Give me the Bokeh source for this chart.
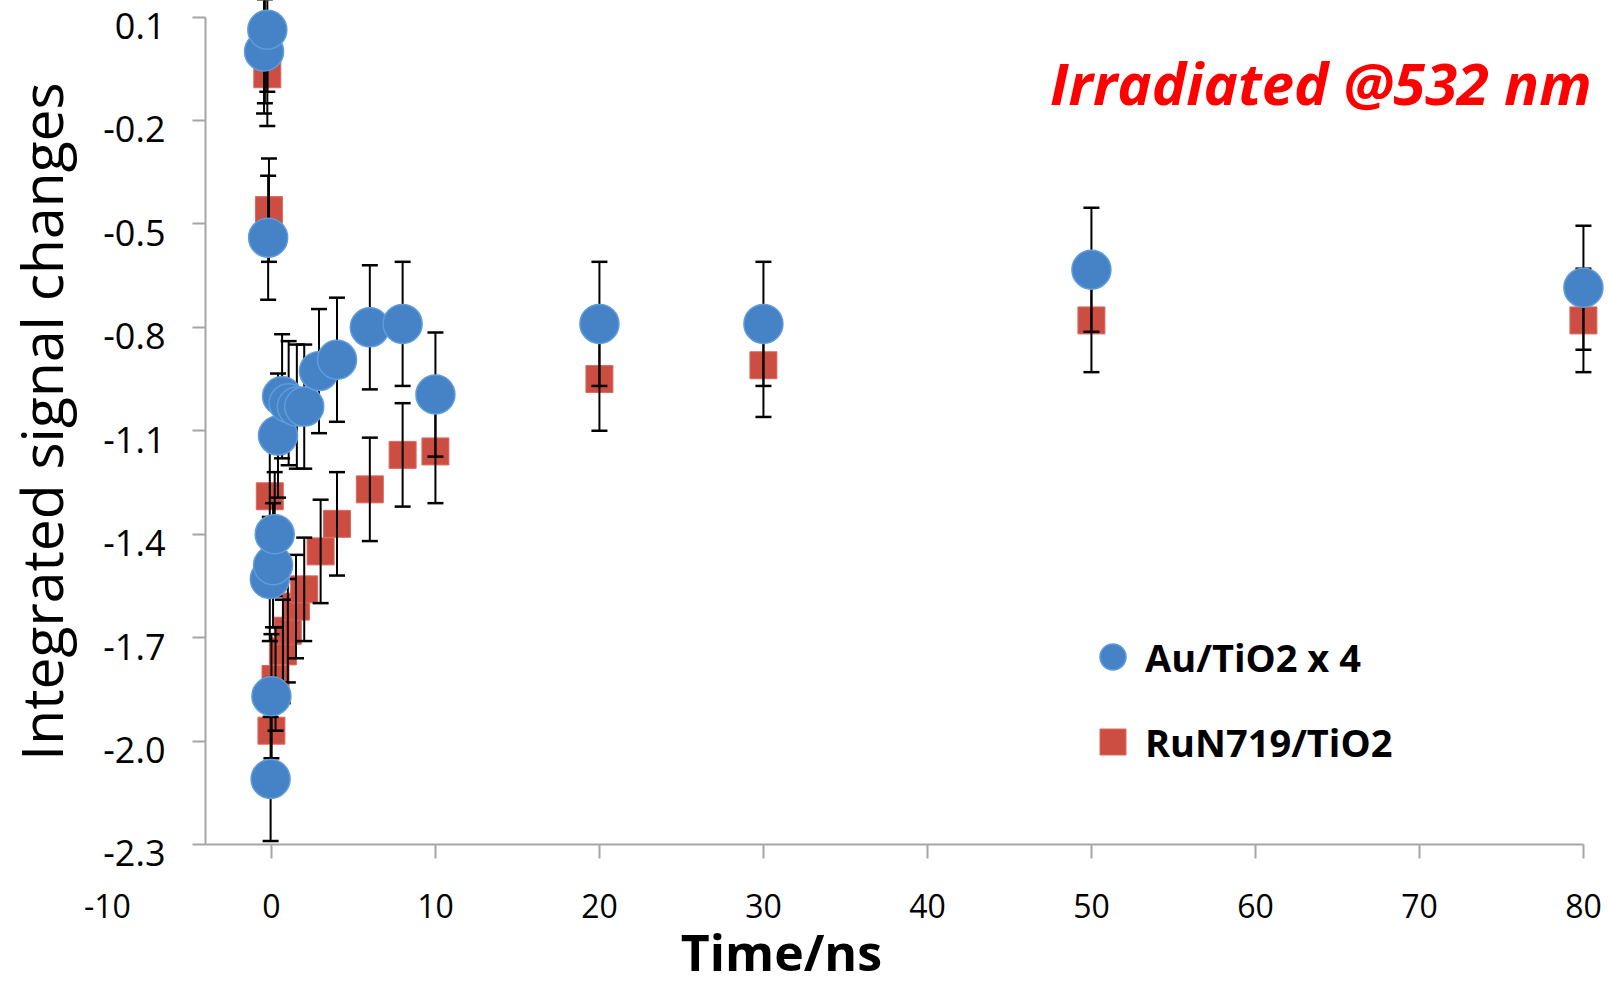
import math
from bokeh.plotting import figure
from bokeh.models import (Range1d, FixedTicker, PrintfTickFormatter, Legend, LegendItem,
                          Label, ColumnDataSource, LinearAxis)
from bokeh.embed import file_html
from bokeh.resources import INLINE

# ---------------- data ----------------
# Au/TiO2 x 4 (blue circles)
au_time = [-0.45, -0.25, -0.2, -0.1, -0.05, 0.0, 0.1, 0.2, 0.4, 0.65, 1.05, 1.55, 2.0,
           2.9, 4.0, 6.0, 8.0, 10.0, 20.0, 30.0, 50.0, 80.0]
au_signal = [0.0, 0.063, -0.54, -1.53, -2.11, -1.87, -1.49, -1.40, -1.114, -1.00, -1.02,
             -1.03, -1.03, -0.927, -0.894, -0.80, -0.79, -0.995, -0.79, -0.79, -0.633, -0.685]
au_err = [0.18, 0.18, 0.18, 0.18, 0.18, 0.18, 0.18, 0.18, 0.18, 0.18, 0.18,
          0.18, 0.18, 0.18, 0.18, 0.18, 0.18, 0.18, 0.18, 0.18, 0.18, 0.18]

# RuN719/TiO2 (red squares)
ru_time = [-0.4, -0.25, -0.15, -0.1, 0.0, 0.25, 0.7, 1.0, 1.5, 2.0, 3.0, 4.0, 6.0, 8.0,
           10.0, 20.0, 30.0, 50.0, 80.0]
ru_signal = [0.0, -0.066, -0.46, -1.29, -1.97, -1.82, -1.74, -1.68, -1.61, -1.56, -1.45,
             -1.37, -1.27, -1.17, -1.16, -0.95, -0.91, -0.78, -0.78]
ru_err = [0.15, 0.15, 0.15, 0.15, 0.15, 0.15, 0.15, 0.15, 0.15, 0.15, 0.15,
          0.15, 0.15, 0.15, 0.15, 0.15, 0.15, 0.15, 0.15]

x_ticks = [0, 10, 20, 30, 40, 50, 60, 70, 80]
stray_x_ticks = [-10]          # tick label drawn left of the y axis in the original
y_ticks = [0.1, -0.2, -0.5, -0.8, -1.1, -1.4, -1.7, -2.0, -2.3]

series_labels = ["Au/TiO2 x 4", "RuN719/TiO2"]
x_title = "Time/ns"
y_title = "Integrated signal changes"
annotation = "Irradiated @532 nm"

# ---------------- layout constants ----------------
FONT = "Open Sans"
AXIS_GRAY = "#A6A6A6"
Y_AXIS_AT = -4.02          # data x where the y axis stands
X_AXIS_AT = -2.3           # data y where the x axis lies
X_MIN, X_MAX = -16.52, 81.59
Y_MIN, Y_MAX = -2.712, 0.148
X_TITLE_AT = 31.1          # data x of the centre of the x-axis title
Y_TITLE_AT = -1.073        # data y of the centre of the y-axis title
Y_LABEL_SHIFT = 0.026      # y tick labels sit slightly below their ticks

# the frame covers the whole canvas; axes are pinned inside it
p = figure(frame_width=1609, frame_height=986,
           output_backend="svg", toolbar_location=None,
           x_range=Range1d(X_MIN, X_MAX), y_range=Range1d(Y_MIN, Y_MAX),
           min_border_left=0, min_border_right=0, min_border_top=0,
           min_border_bottom=0)
p.background_fill_color = "white"
p.border_fill_color = "white"
p.outline_line_color = None
p.grid.visible = False
p.extra_y_ranges = {"ylab": Range1d(Y_MIN + Y_LABEL_SHIFT, Y_MAX + Y_LABEL_SHIFT)}

def err_source(t, s, e):
    return ColumnDataSource(dict(
        x=t, y=s,
        lo=[a - b for a, b in zip(s, e)],
        hi=[a + b for a, b in zip(s, e)],
    ))

ru_src = err_source(ru_time, ru_signal, ru_err)
au_src = err_source(au_time, au_signal, au_err)

# red squares first
ru_r = p.scatter("x", "y", source=ru_src, marker="square", size=27,
                 fill_color="#CC4E43", line_color="#DB6A5F", line_width=1)

# error bars (red then blue)
for src in (ru_src, au_src):
    p.segment(x0="x", y0="lo", x1="x", y1="hi", source=src,
              line_color="black", line_width=2)
    p.scatter("x", "lo", source=src, marker="dash", size=16,
              line_color="black", line_width=2.5)
    p.scatter("x", "hi", source=src, marker="dash", size=16,
              line_color="black", line_width=2.5)

# blue circles on top
au_r = p.scatter("x", "y", source=au_src, marker="circle", size=39,
                 fill_color="#4683C6", line_color="#5E9CDB", line_width=1.5)

# ---------------- axes ----------------
def style_x(ax, size, standoff):
    ax.major_label_text_font = FONT
    ax.major_label_text_font_size = size
    ax.major_label_text_color = "black"
    ax.major_label_standoff = standoff
    ax.major_tick_out = 14
    ax.major_tick_in = 0
    ax.minor_tick_line_color = None

xa = p.xaxis[0]
xa.fixed_location = X_AXIS_AT
xa.ticker = FixedTicker(ticks=x_ticks)
xa.bounds = (Y_AXIS_AT, 80)
xa.axis_line_color = AXIS_GRAY
xa.axis_line_width = 2
xa.major_tick_line_color = AXIS_GRAY
xa.major_tick_line_width = 2
style_x(xa, "32px", 36)

# the stray "-10" label, at the same height as the other x tick labels
xa2 = LinearAxis(ticker=FixedTicker(ticks=stray_x_ticks), fixed_location=X_AXIS_AT,
                 axis_line_color=None, major_tick_line_color=None,
                 major_label_overrides={t: "%d" % t for t in stray_x_ticks})
style_x(xa2, "32px", 36)
p.add_layout(xa2, "below")

# x-axis title under the axis, at its original horizontal position
xa3 = LinearAxis(ticker=FixedTicker(ticks=[X_TITLE_AT]), fixed_location=X_AXIS_AT,
                 axis_line_color=None, major_tick_line_color=None,
                 major_label_overrides={X_TITLE_AT: x_title})
style_x(xa3, "50px", 60)
xa3.major_label_text_font_style = "bold"
p.add_layout(xa3, "below")

# y axis: line and ticks
ya = p.yaxis[0]
ya.fixed_location = Y_AXIS_AT
ya.ticker = FixedTicker(ticks=y_ticks)
ya.bounds = (-2.3, 0.1)
ya.axis_line_color = AXIS_GRAY
ya.axis_line_width = 2
ya.major_tick_line_color = AXIS_GRAY
ya.major_tick_line_width = 2
ya.major_tick_out = 13
ya.major_tick_in = 0
ya.minor_tick_line_color = None
ya.major_label_text_color = None

# y tick labels (slightly lowered, as in the original)
ya2 = LinearAxis(y_range_name="ylab", fixed_location=Y_AXIS_AT,
                 ticker=FixedTicker(ticks=y_ticks),
                 formatter=PrintfTickFormatter(format="%.1f"),
                 axis_line_color=None, major_tick_line_color=None,
                 minor_tick_line_color=None, major_tick_out=13, major_tick_in=0,
                 major_label_text_font=FONT, major_label_text_font_size="36px",
                 major_label_text_color="black", major_label_standoff=27)
p.add_layout(ya2, "left")

# y-axis title
p.add_layout(Label(x=Y_AXIS_AT, y=Y_TITLE_AT, x_offset=-164, text=y_title,
                   angle=math.pi / 2, text_font=FONT, text_font_size="57px",
                   text_color="black", text_align="center",
                   text_baseline="alphabetic"))

# red annotation
p.add_layout(Label(x=80.5, y=-0.09, text=annotation,
                   text_font=FONT, text_font_style="bold italic",
                   text_font_size="58px", text_color="#FF0000",
                   text_align="right", text_baseline="alphabetic"))

# ---------------- legend ----------------
legend = Legend(items=[LegendItem(label=series_labels[0], renderers=[au_r]),
                       LegendItem(label=series_labels[1], renderers=[ru_r])],
                location=(1080, 212), orientation="vertical",
                glyph_width=65, glyph_height=65, label_standoff=0, spacing=20,
                padding=0, margin=0, border_line_color=None,
                background_fill_alpha=0,
                label_text_font=FONT, label_text_font_style="bold",
                label_text_font_size="38px", label_text_color="black")
p.add_layout(legend)

open("out.html", "w").write(file_html(p, INLINE))
